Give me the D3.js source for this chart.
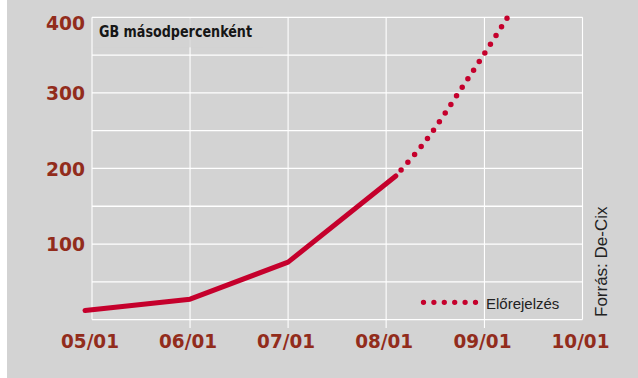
<!DOCTYPE html>
<html>
<head>
<meta charset="utf-8">
<script src="https://cdn.jsdelivr.net/npm/d3@7"></script>
<style>
  html, body { margin: 0; padding: 0; background: #ffffff; }
  svg { display: block; }
</style>
</head>
<body>
<svg id="chart" width="638" height="378"></svg>
<script>
// Internet exchange traffic (GB per second), measured and forecast
const measuredDates = ["2004-12-06", "2006-01-01", "2007-01-01", "2008-02-06"];
const measuredValues = [12, 27, 76, 190];

const forecastDates = ["2008-02-06", "2008-06-12", "2008-10-02", "2009-02-17", "2009-03-28"];
const forecastValues = [190, 244, 303, 378, 400];

const xTickDates = ["2005-01-01", "2006-01-01", "2007-01-01", "2008-01-01", "2009-01-01", "2010-01-01"];
const xTickLabels = ["05/01", "06/01", "07/01", "08/01", "09/01", "10/01"];
const yTicks = [100, 200, 300, 400];
const yGrid = [0, 50, 100, 150, 200, 250, 300, 350, 400];

const unitLabel = "GB másodpercenként";
const legendLabel = "Előrejelzés";
const sourceLabel = "Forrás: De-Cix";

const parse = d3.timeParse("%Y-%m-%d");
const svg = d3.select("#chart");
const W = 638, H = 378;
const plot = { left: 92, right: 582.5, top: 17.3, bottom: 319.6 };

const gray = "#d3d3d3";
const labelRed = "#922c1c";
const lineRed = "#c5002c";

svg.append("rect").attr("x", 7).attr("y", 0).attr("width", W - 7).attr("height", H).attr("fill", gray);

const x = d3.scaleTime()
  .domain([parse(xTickDates[0]), parse(xTickDates[xTickDates.length - 1])])
  .range([plot.left, plot.right]);
const y = d3.scaleLinear().domain([0, 400]).range([plot.bottom, plot.top]);

// horizontal grid
svg.append("g").selectAll("line").data(yGrid).join("line")
  .attr("x1", plot.left).attr("x2", plot.right)
  .attr("y1", d => y(d)).attr("y2", d => y(d))
  .attr("stroke", "#ffffff").attr("stroke-width", 1.3);

// vertical grid with ticks extending under the baseline
svg.append("g").selectAll("line").data(xTickDates).join("line")
  .attr("x1", d => x(parse(d))).attr("x2", d => x(parse(d)))
  .attr("y1", plot.top)
  .attr("y2", (d, i) => (i === 0 || i === xTickDates.length - 1) ? plot.bottom : plot.bottom + 8.5)
  .attr("stroke", "#ffffff").attr("stroke-width", 1.1);

// unit label with its backing panel
svg.append("rect").attr("x", plot.left + 1).attr("y", plot.top + 1)
  .attr("width", 170).attr("height", 29).attr("fill", gray).attr("opacity", 0.8);
svg.append("text").attr("x", 99).attr("y", 37.3)
  .attr("font-family", "'DejaVu Sans Condensed', 'Liberation Sans Narrow', 'DejaVu Sans', sans-serif")
  .attr("font-weight", "bold").attr("font-size", 16).attr("fill", "#161616")
  .attr("textLength", 153).attr("lengthAdjust", "spacingAndGlyphs")
  .text(unitLabel);

// y tick labels
svg.append("g").selectAll("text").data(yTicks).join("text")
  .attr("x", 85)
  .attr("y", d => d === 400 ? y(d) + 5.5 : y(d))
  .attr("dy", "0.36em")
  .attr("text-anchor", "end")
  .attr("font-family", "'DejaVu Sans', sans-serif").attr("font-weight", "bold")
  .attr("font-size", 20).attr("fill", labelRed)
  .attr("textLength", 39).attr("lengthAdjust", "spacingAndGlyphs")
  .text(d => d);

// x tick labels
svg.append("g").selectAll("text").data(xTickDates).join("text")
  .attr("x", (d, i) => x(parse(d)) - 2)
  .attr("y", 348)
  .attr("text-anchor", "middle")
  .attr("font-family", "'DejaVu Sans', sans-serif").attr("font-weight", "bold")
  .attr("font-size", 20).attr("fill", labelRed)
  .attr("textLength", 58).attr("lengthAdjust", "spacingAndGlyphs")
  .text((d, i) => xTickLabels[i]);

// measured series
const measured = measuredDates.map((d, i) => ({ date: parse(d), value: measuredValues[i] }));
const forecast = forecastDates.map((d, i) => ({ date: parse(d), value: forecastValues[i] }));

const line = d3.line().x(d => x(d.date)).y(d => y(d.value));
const curve = d3.line().x(d => x(d.date)).y(d => y(d.value)).curve(d3.curveMonotoneX);

svg.append("path").datum(forecast).attr("d", curve)
  .attr("fill", "none").attr("stroke", lineRed).attr("stroke-width", 5.5)
  .attr("stroke-linecap", "round").attr("stroke-dasharray", "0 10.3")
  .attr("stroke-dashoffset", -8);

svg.append("path").datum(measured).attr("d", line)
  .attr("fill", "none").attr("stroke", lineRed).attr("stroke-width", 5)
  .attr("stroke-linecap", "round").attr("stroke-linejoin", "round");

// legend
svg.append("line").attr("x1", 423.5).attr("x2", 476).attr("y1", 302.3).attr("y2", 302.3)
  .attr("stroke", lineRed).attr("stroke-width", 5.3)
  .attr("stroke-linecap", "round").attr("stroke-dasharray", "0 10.4");
svg.append("text").attr("x", 486).attr("y", 308.5)
  .attr("font-family", "'Liberation Sans', Arial, sans-serif")
  .attr("font-size", 15).attr("fill", "#222222")
  .text(legendLabel);

// source note
svg.append("text")
  .attr("transform", "translate(607,317) rotate(-90)")
  .attr("font-family", "'Liberation Sans', Arial, sans-serif")
  .attr("font-size", 17).attr("fill", "#222222")
  .text(sourceLabel);
</script>
</body>
</html>
